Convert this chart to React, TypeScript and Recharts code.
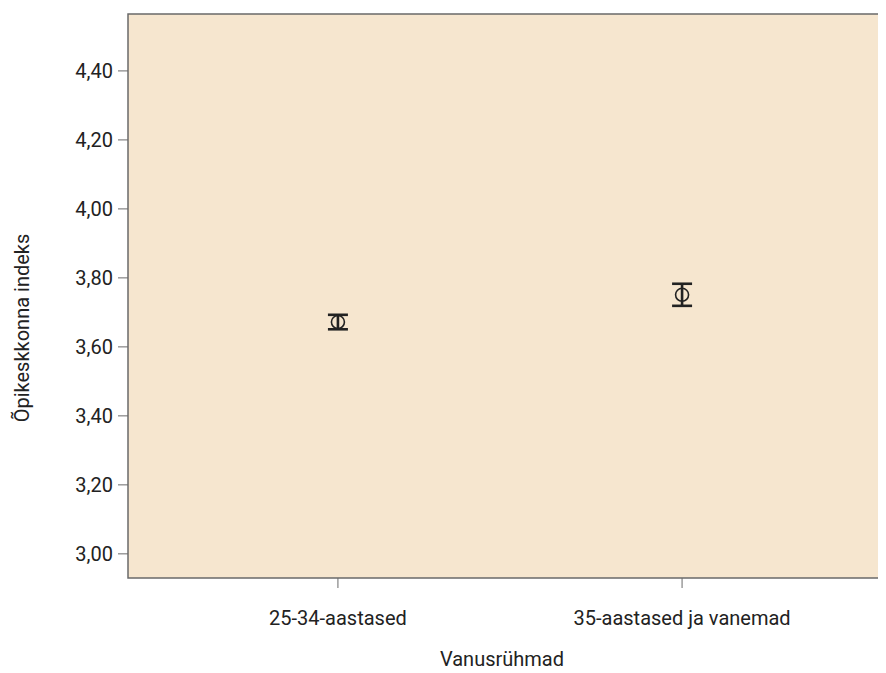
import { ErrorBar, ReferenceArea, Scatter, ScatterChart, XAxis, YAxis } from "recharts";

const categories = ["25-34-aastased", "35-aastased ja vanemad"];
const means = [3.672, 3.751];
const errors = [0.021, 0.032];
const yTicks = [3.0, 3.2, 3.4, 3.6, 3.8, 4.0, 4.2, 4.4];

const X_DOMAIN: [number, number] = [0.39, 2.61];
const Y_DOMAIN: [number, number] = [2.93, 4.565];

const data = categories.map((name, i) => ({
  x: i + 1,
  y: means[i],
  err: errors[i],
  name,
}));

const font = "Roboto, 'Noto Sans', sans-serif";
const ink = "#222";
const frame = "#6a6a6a";
const fontSize = 20;

const MeanMarker = (props: any) => (
  <circle cx={props.cx} cy={props.cy} r={6.5} fill="none" stroke={ink} strokeWidth={1.6} />
);

export default function App() {
  return (
    <div style={{ width: 878, height: 665, overflow: "hidden" }}>
      <ScatterChart width={900} height={665} margin={{ top: 6, right: 16, bottom: 0, left: 0 }}>
        <ReferenceArea
          x1={X_DOMAIN[0]}
          x2={X_DOMAIN[1]}
          y1={Y_DOMAIN[0]}
          y2={Y_DOMAIN[1]}
          fill="#f6e6cf"
          fillOpacity={1}
          stroke={frame}
          strokeWidth={1.5}
        />
        <XAxis
          type="number"
          dataKey="x"
          domain={X_DOMAIN}
          ticks={[1, 2]}
          tickFormatter={(v: number) => categories[v - 1] ?? ""}
          allowDataOverflow
          axisLine={false}
          tickLine={{ stroke: frame }}
          tickSize={10}
          tickMargin={23}
          height={95}
          tick={{ fill: ink, fontSize, fontFamily: font }}
          label={{
            value: "Vanusrühmad",
            position: "insideBottom",
            offset: 7,
            dx: -8,
            fill: ink,
            fontSize,
            fontFamily: font,
          }}
        />
        <YAxis
          type="number"
          dataKey="y"
          domain={Y_DOMAIN}
          ticks={yTicks}
          allowDataOverflow
          tickFormatter={(v: number) => v.toFixed(2).replace(".", ",")}
          axisLine={false}
          tickLine={{ stroke: frame }}
          tickSize={10}
          tickMargin={5}
          width={120}
          tick={{ fill: ink, fontSize, fontFamily: font }}
          label={(props: any) => {
            const vb = props.viewBox || {};
            const cx = 14;
            const cy = (vb.y ?? 0) + (vb.height ?? 0) / 2 + 32;
            return (
              <text
                x={cx}
                y={cy}
                transform={`rotate(-90, ${cx}, ${cy})`}
                textAnchor="middle"
                dominantBaseline="central"
                fill={ink}
                fontSize={fontSize}
                fontFamily={font}
              >
                Õpikeskkonna indeks
              </text>
            );
          }}
        />
        <Scatter data={data} shape={MeanMarker} isAnimationActive={false}>
          <ErrorBar dataKey="err" direction="y" width={10} strokeWidth={2.6} stroke={ink} isAnimationActive={false} />
        </Scatter>
      </ScatterChart>
    </div>
  );
}
